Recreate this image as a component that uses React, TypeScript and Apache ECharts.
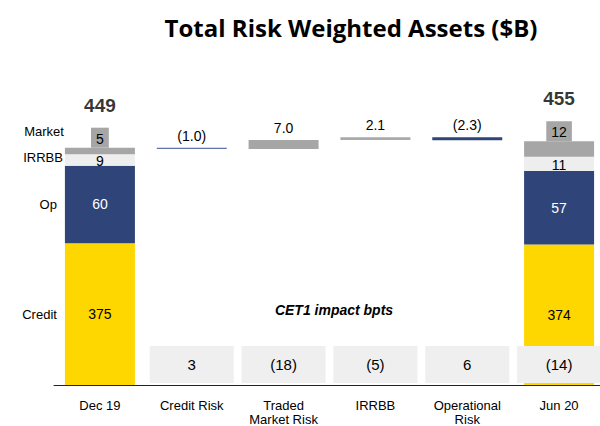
import React, { useEffect, useRef } from "react";
import * as echarts from "echarts";

const categories = ["Dec 19", "Credit Risk", "Traded\nMarket Risk", "IRRBB", "Operational\nRisk", "Jun 20"];
const creditRwa = [375, null, null, null, null, 374];
const opRwa = [60, null, null, null, null, 57];
const irrbbRwa = [9, null, null, null, null, 11];
const marketRwa = [5, null, null, null, null, 12];
const totals = [449, null, null, null, null, 455];
const movements = [-1.0, 7.0, 2.1, -2.3];
const movementColors = ["#5f74a6", "#a6a6a6", "#a9a9a9", "#2f4478"];
const cet1Impact = [null, 3, -18, -5, 6, -14];
const segmentNames = ["Credit", "Op", "IRRBB", "Market"];

const FONT = "'Liberation Sans', Arial, sans-serif";
const fmtParen = (v: number, digits: number) =>
  v < 0 ? `(${Math.abs(v).toFixed(digits)})` : v.toFixed(digits);

export default function App() {
  const ref = useRef<HTMLDivElement>(null);
  useEffect(() => {
    if (!ref.current) return;
    const chart = echarts.init(ref.current, undefined, { renderer: "svg" });

    const start = creditRwa[0]! + opRwa[0]! + irrbbRwa[0]! + marketRwa[0]!;
    const base: (number | null)[] = [null];
    const delta: any[] = [null];
    let cur = start;
    movements.forEach((m, i) => {
      const next = cur + m;
      base.push(Math.min(cur, next));
      delta.push({
        value: Math.abs(m),
        raw: m,
        itemStyle: { color: movementColors[i] },
      });
      cur = next;
    });
    base.push(null);
    delta.push(null);

    const decSegMid = (idx: number) => {
      const arrs = [creditRwa, opRwa, irrbbRwa, marketRwa];
      let lo = 0;
      for (let k = 0; k < idx; k++) lo += arrs[k][0]!;
      const hi = lo + arrs[idx][0]!;
      return (Math.max(lo, 265) + hi) / 2;
    };

    const segLabel = (color: string) => ({
      show: true,
      position: "inside" as const,
      color,
      fontSize: 14,
      fontFamily: FONT,
    });

    const leftName = (idx: number, offsetX: number, offsetY: number) => ({
      symbol: "circle",
      symbolSize: 0,
      silent: true,
      label: {
        show: true,
        position: "left" as const,
        distance: 0,
        offset: [offsetX, offsetY],
        color: "#000",
        fontSize: 13,
        fontFamily: FONT,
        formatter: () => segmentNames[idx],
      },
      data: [{ coord: [0, decSegMid(idx)] }],
    });

    const option: any = {
      animation: false,
      backgroundColor: "#fff",
      title: [
        {
          text: "Total Risk Weighted Assets ($B)",
          left: 346,
          top: 10,
          textAlign: "center",
          textStyle: { fontFamily: "'Open Sans', sans-serif", fontWeight: "bold", fontSize: 24, color: "#000" },
        },
        {
          text: "CET1 impact bpts",
          left: 329,
          top: 298,
          textAlign: "center",
          textStyle: { fontFamily: FONT, fontWeight: "bold", fontStyle: "italic", fontSize: 14, color: "#000" },
        },
      ],
      grid: [
        { left: 54, right: -5, top: 60, bottom: 41, containLabel: false, outerBoundsMode: "none" },
        { left: 54, right: -5, top: 346, bottom: 43, containLabel: false, outerBoundsMode: "none" },
      ],
      xAxis: [
        {
          type: "category",
          gridIndex: 0,
          data: categories,
          axisLine: { show: true, lineStyle: { color: "#222", width: 1 } },
          axisTick: { show: false },
          axisLabel: { color: "#000", fontSize: 13, fontFamily: FONT, margin: 13, lineHeight: 14, interval: 0 },
        },
        {
          type: "category",
          gridIndex: 1,
          data: categories,
          show: false,
        },
      ],
      yAxis: [
        { type: "value", gridIndex: 0, min: 265, max: 517, show: false, splitLine: { show: false } },
        { type: "value", gridIndex: 1, min: 0, max: 1, show: false, splitLine: { show: false } },
      ],
      series: [
        {
          name: "Credit",
          type: "bar",
          stack: "rwa",
          barWidth: 70,
          barGap: "-100%",
          data: creditRwa,
          itemStyle: { color: "#ffd700" },
          label: segLabel("#000"),
          markPoint: leftName(0, -43, 0),
        },
        {
          name: "Op",
          type: "bar",
          stack: "rwa",
          barGap: "-100%",
          data: opRwa,
          itemStyle: { color: "#2f4478" },
          label: segLabel("#fff"),
          markPoint: leftName(1, -43, 0),
        },
        {
          name: "IRRBB",
          type: "bar",
          stack: "rwa",
          barGap: "-100%",
          data: irrbbRwa,
          itemStyle: { color: "#eeeeee" },
          label: { ...segLabel("#000"), offset: [0, 1] },
          markPoint: leftName(2, -37, -2),
        },
        {
          name: "Market",
          type: "bar",
          stack: "rwa",
          barGap: "-100%",
          data: marketRwa,
          itemStyle: { color: "#a6a6a6" },
          label: {
            show: true,
            position: "top",
            distance: 0,
            color: "#000",
            fontSize: 14,
            fontFamily: FONT,
            backgroundColor: "#a6a6a6",
            padding: [3, 5, 1, 5],
            lineHeight: 16,
          },
          markPoint: leftName(3, -36, -19),
        },
        {
          name: "base",
          type: "bar",
          stack: "wf",
          barWidth: 70,
          barGap: "-100%",
          data: base,
          itemStyle: { color: "transparent" },
          silent: true,
        },
        {
          name: "move",
          type: "bar",
          stack: "wf",
          barGap: "-100%",
          data: delta,
          label: {
            show: true,
            position: "top",
            distance: 5,
            color: "#000",
            fontSize: 14,
            fontFamily: FONT,
            formatter: (p: any) => fmtParen(p.data.raw, 1),
          },
        },
        {
          name: "total",
          type: "scatter",
          data: totals.map((t, i) =>
            t == null ? null : [i, (creditRwa[i] ?? 0) + (opRwa[i] ?? 0) + (irrbbRwa[i] ?? 0) + (marketRwa[i] ?? 0), t]
          ),
          symbolSize: 0,
          label: {
            show: true,
            position: "top",
            distance: 0,
            offset: [0, -33],
            color: "#000",
            fontSize: 19,
            fontWeight: "bold",
            fontFamily: FONT,
            formatter: (p: any) => String(p.data[2]),
          },
        },
        {
          name: "CET1",
          type: "bar",
          xAxisIndex: 1,
          yAxisIndex: 1,
          barWidth: 84,
          z: 5,
          data: cet1Impact.map((v) => (v == null ? null : { value: 1, raw: v })),
          itemStyle: { color: "#efefef" },
          label: {
            show: true,
            position: "inside",
            color: "#000",
            fontSize: 15,
            fontFamily: FONT,
            formatter: (p: any) => fmtParen(p.data.raw, 0),
          },
        },
      ],
    };
    chart.setOption(option);
    return () => chart.dispose();
  }, []);
  return <div ref={ref} style={{ width: 600, height: 426, position: "absolute", left: 0, top: 0 }} />;
}
